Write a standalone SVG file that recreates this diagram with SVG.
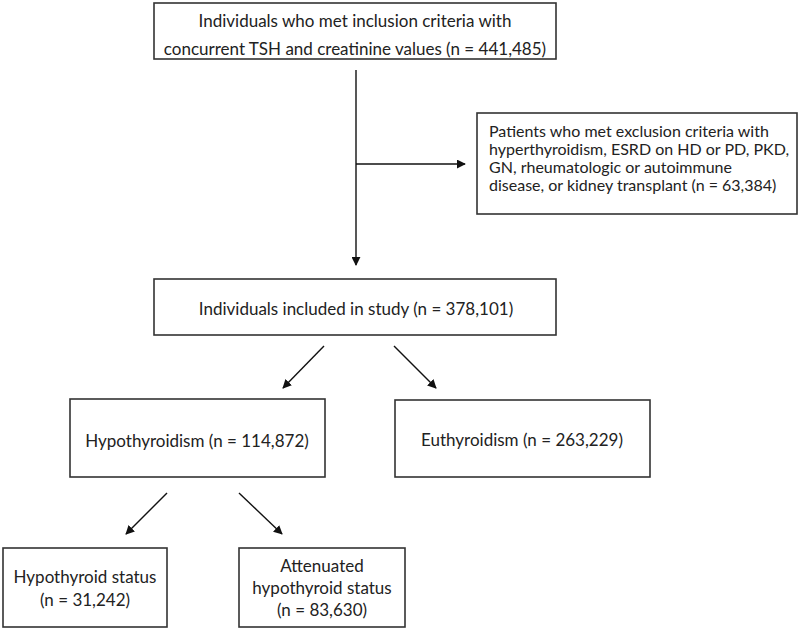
<svg xmlns="http://www.w3.org/2000/svg" width="800" height="630" viewBox="0 0 800 630">
<defs>
<marker id="ah" viewBox="0 0 10 10" refX="9" refY="5" markerWidth="9" markerHeight="9" markerUnits="userSpaceOnUse" orient="auto">
<path d="M0,0 L10,5 L0,10 z" fill="#111"/>
</marker>
<style>
.box{fill:#fff;stroke:#333;stroke-width:1.6}
.t{font-family:Lato,"Open Sans","Liberation Sans",sans-serif;font-size:17px;fill:#222}
.s{font-size:16px}
.c{text-anchor:middle}
.ln{stroke:#111;stroke-width:1.4;fill:none}
</style>
</defs>
<rect width="800" height="630" fill="#fff"/>
<g id="connectors">
<line class="ln" x1="356" y1="70" x2="356" y2="265" marker-end="url(#ah)"/>
<line class="ln" x1="356" y1="164" x2="465" y2="164" marker-end="url(#ah)"/>
<line class="ln" x1="324" y1="346" x2="283" y2="388" marker-end="url(#ah)"/>
<line class="ln" x1="394" y1="346" x2="436" y2="388" marker-end="url(#ah)"/>
<line class="ln" x1="167" y1="493" x2="126" y2="534" marker-end="url(#ah)"/>
<line class="ln" x1="239" y1="493" x2="282" y2="534" marker-end="url(#ah)"/>
</g>
<g id="inclusion">
<rect class="box" x="154" y="3" width="402" height="56"/>
<text class="t c" x="355" y="27">Individuals who met inclusion criteria with</text>
<text class="t c" x="355" y="55">concurrent TSH and creatinine values (n = 441,485)</text>
</g>
<g id="exclusion">
<rect class="box" x="477" y="113" width="320" height="101"/>
<text class="t s" x="489" y="137">Patients who met exclusion criteria with</text>
<text class="t s" x="489" y="155">hyperthyroidism, ESRD on HD or PD, PKD,</text>
<text class="t s" x="489" y="173">GN, rheumatologic or autoimmune</text>
<text class="t s" x="489" y="191">disease, or kidney transplant (n = 63,384)</text>
</g>
<g id="included">
<rect class="box" x="154" y="279" width="402" height="56"/>
<text class="t c" x="356" y="315">Individuals included in study (n = 378,101)</text>
</g>
<g id="hypothyroidism">
<rect class="box" x="70" y="399" width="255" height="78"/>
<text class="t c" x="197" y="447">Hypothyroidism (n = 114,872)</text>
</g>
<g id="euthyroidism">
<rect class="box" x="395" y="400" width="255" height="77"/>
<text class="t c" x="522" y="446">Euthyroidism (n = 263,229)</text>
</g>
<g id="hypothyroid-status">
<rect class="box" x="3" y="548" width="164" height="79"/>
<text class="t c" x="85" y="583">Hypothyroid status</text>
<text class="t c" x="85" y="606">(n = 31,242)</text>
</g>
<g id="attenuated">
<rect class="box" x="239" y="548" width="166" height="79"/>
<text class="t c" x="322" y="572">Attenuated</text>
<text class="t c" x="322" y="594">hypothyroid status</text>
<text class="t c" x="322" y="616">(n = 83,630)</text>
</g>
</svg>
